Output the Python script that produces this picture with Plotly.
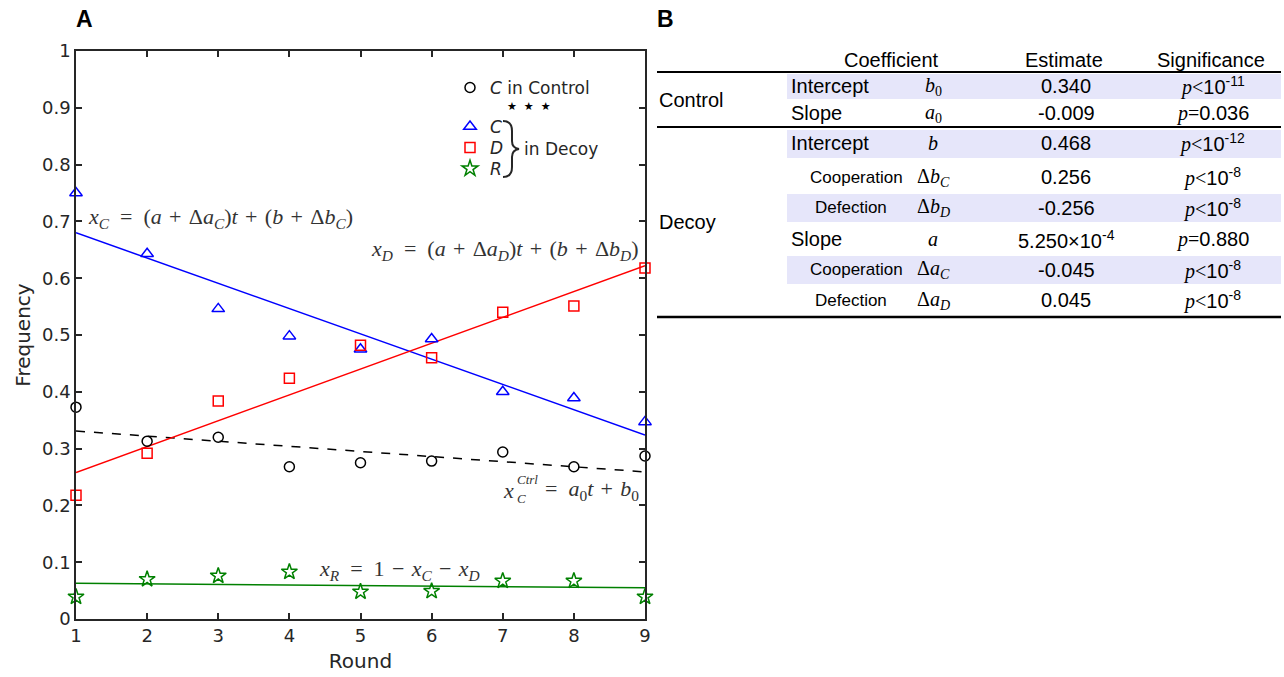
import plotly.graph_objects as go

# ---------------- data ----------------
rounds = [1, 2, 3, 4, 5, 6, 7, 8, 9]
ctrl_C = [0.373, 0.313, 0.320, 0.268, 0.275, 0.278, 0.294, 0.268, 0.287]
decoy_C = [0.750, 0.643, 0.546, 0.498, 0.475, 0.493, 0.400, 0.389, 0.347]
decoy_D = [0.218, 0.292, 0.384, 0.424, 0.482, 0.460, 0.540, 0.551, 0.618]
decoy_R = [0.039, 0.070, 0.076, 0.083, 0.048, 0.049, 0.067, 0.067, 0.039]

fit_rounds = [1, 9]
fit_ctrl_C = [0.331, 0.259]
fit_decoy_C = [0.680, 0.324]
fit_decoy_D = [0.258, 0.622]
fit_decoy_R = [0.063, 0.055]

# table
tbl_header = ["Coefficient", "Estimate", "Significance"]
tbl_names = ["Intercept", "Slope", "Intercept", "Cooperation", "Defection", "Slope", "Cooperation", "Defection"]
tbl_symbols = ["<i>b</i><sub>0</sub>", "<i>a</i><sub>0</sub>", "<i>b</i>", "Δ<i>b<sub>C</sub></i>", "Δ<i>b<sub>D</sub></i>",
               "<i>a</i>", "Δ<i>a<sub>C</sub></i>", "Δ<i>a<sub>D</sub></i>"]
tbl_estimates = ["0.340", "-0.009", "0.468", "0.256", "-0.256", "5.250×10<sup>-4</sup>", "-0.045", "0.045"]
tbl_sig = ["<", "=", "<", "<", "<", "=", "<", "<"]
tbl_sig_val = ["10<sup>-11</sup>", "0.036", "10<sup>-12</sup>", "10<sup>-8</sup>", "10<sup>-8</sup>", "0.880",
               "10<sup>-8</sup>", "10<sup>-8</sup>"]
tbl_groups = ["Control", "Decoy"]

W, H = 1284, 677
def PX(px):
    return px / W
def PY(py):
    return 1 - py / H

DARK = "#262626"
SANS = "DejaVu Sans"
ARIAL = "Liberation Sans"
SERIF = "Liberation Serif"

fig = go.Figure()

# fit lines
fig.add_trace(go.Scatter(x=fit_rounds, y=fit_ctrl_C, mode="lines", line=dict(color="black", width=1.5, dash="dash"),
                         showlegend=False, hoverinfo="skip"))
fig.add_trace(go.Scatter(x=fit_rounds, y=fit_decoy_C, mode="lines", line=dict(color="#0000ff", width=1.5),
                         showlegend=False, hoverinfo="skip"))
fig.add_trace(go.Scatter(x=fit_rounds, y=fit_decoy_D, mode="lines", line=dict(color="#ff0000", width=1.5),
                         showlegend=False, hoverinfo="skip"))
fig.add_trace(go.Scatter(x=fit_rounds, y=fit_decoy_R, mode="lines", line=dict(color="#008000", width=1.5),
                         showlegend=False, hoverinfo="skip"))

# data markers
fig.add_trace(go.Scatter(x=rounds, y=ctrl_C, mode="markers", name="<i>C</i> in Control", legend="legend",
                         marker=dict(symbol="circle-open", color="black", size=10, line=dict(width=1.5)),
                         cliponaxis=False))
fig.add_trace(go.Scatter(x=rounds, y=decoy_C, mode="markers", name="<i>C</i>", legend="legend2",
                         marker=dict(symbol="triangle-up-open", color="#0000ff", size=11, line=dict(width=1.5)),
                         cliponaxis=False))
fig.add_trace(go.Scatter(x=rounds, y=decoy_D, mode="markers", name="<i>D</i>", legend="legend3",
                         marker=dict(symbol="square-open", color="#ff0000", size=10, line=dict(width=1.5)),
                         cliponaxis=False))
fig.add_trace(go.Scatter(x=rounds, y=decoy_R, mode="markers", name="<i>R</i>", legend="legend4",
                         marker=dict(symbol="star-open", color="#008000", size=12, line=dict(width=1.5)),
                         cliponaxis=False))

axis_common = dict(showline=True, linecolor=DARK, linewidth=1.5, mirror="ticks", ticks="inside", ticklen=6,
                   tickwidth=1.5, tickcolor=DARK, showgrid=False, zeroline=False,
                   tickfont=dict(family=SANS, size=18, color=DARK))

def leg(py):
    return dict(x=PX(450), y=PY(py), xanchor="left", yanchor="middle", bgcolor="rgba(0,0,0,0)",
                font=dict(family=SANS, size=17, color=DARK), itemwidth=30)

fig.update_layout(
    width=W, height=H, margin=dict(l=0, r=0, t=0, b=0, autoexpand=False),
    paper_bgcolor="white", plot_bgcolor="white",
    xaxis=dict(domain=[PX(76), PX(645)], range=[1, 9], dtick=1, tick0=1,
               title=dict(text="Round", font=dict(family=SANS, size=20, color=DARK), standoff=9), **axis_common),
    yaxis=dict(domain=[PY(619), PY(51)], range=[0, 1], dtick=0.1, tick0=0,
               title=dict(text="Frequency", font=dict(family=SANS, size=20, color=DARK), standoff=6), **axis_common),
    legend=leg(88), legend2=leg(127), legend3=leg(148), legend4=leg(169),
    showlegend=True,
)

ann = []
def A(text, px, py, xanchor="center", size=17, family=ARIAL, color="black", yanchor="middle"):
    ann.append(dict(text=text, x=PX(px), y=PY(py), xref="paper", yref="paper", xanchor=xanchor, yanchor=yanchor,
                    showarrow=False, font=dict(family=family, size=size, color=color)))

# panel labels
A("<b>A</b>", 85, 19, size=23)
A("<b>B</b>", 665, 19, size=23)

# legend extras
A("★  ★  ★", 529, 107, size=11, family=SANS, color="black")
A("in Decoy", 522, 149, xanchor="left", size=17, family=SANS, color=DARK)

# equations
EQC = "#333333"
E = "\u2002"   # wide space around '='
M = "\u2004"   # medium space around binary operators
A(f"<i>x<sub>C</sub></i>{E}={E}(<i>a</i>{M}+{M}Δ<i>a<sub>C</sub></i>)<i>t</i>{M}+{M}(<i>b</i>{M}+{M}Δ<i>b<sub>C</sub></i>)",
  86, 218, xanchor="left", size=22, family=SERIF, color=EQC)
A(f"<i>x<sub>D</sub></i>{E}={E}(<i>a</i>{M}+{M}Δ<i>a<sub>D</sub></i>)<i>t</i>{M}+{M}(<i>b</i>{M}+{M}Δ<i>b<sub>D</sub></i>)",
  641, 250, xanchor="right", size=22, family=SERIF, color=EQC)
A("<i>x</i>", 516, 490, xanchor="right", size=22, family=SERIF, color=EQC)
A("<i>Ctrl</i>", 515, 479, xanchor="left", size=13, family=SERIF, color=EQC)
A("<i>C</i>", 515, 498, xanchor="left", size=13, family=SERIF, color=EQC)
A(f"={E}<i>a</i><sub>0</sub><i>t</i>{M}+{M}<i>b</i><sub>0</sub>", 641, 490, xanchor="right", size=22, family=SERIF,
  color=EQC)
A(f"<i>x<sub>R</sub></i>{E}={E}1{M}−{M}<i>x<sub>C</sub></i>{M}−{M}<i>x<sub>D</sub></i>", 399, 570, size=22,
  family=SERIF, color=EQC)

# table header
A(tbl_header[0], 891, 60, size=20)
A(tbl_header[1], 1064, 60, size=20)
A(tbl_header[2], 1211, 60, size=20)

row_y = [86, 113, 143, 177, 208, 239, 270, 300]
shade_rows = [(74, 99), (130, 158), (194, 222), (256, 284)]
shapes = []
for y0, y1 in shade_rows:
    shapes.append(dict(type="rect", xref="paper", yref="paper", x0=PX(787), x1=PX(1281), y0=PY(y1), y1=PY(y0),
                       fillcolor="#e6e6fa", line=dict(width=0), layer="below"))

for i, (nm, sym, est, sg, sv) in enumerate(zip(tbl_names, tbl_symbols, tbl_estimates, tbl_sig, tbl_sig_val)):
    y = row_y[i]
    if nm in ("Cooperation", "Defection"):
        xl = 808 if nm == "Cooperation" else 813
        A(nm, xl, y, xanchor="left", size=17)
    else:
        A(nm, 789, y, xanchor="left", size=20)
    A(sym, 933, y, size=20, family=SERIF)
    A(est, 1066, y, size=20)
    sig = ('<span style="font-family:Liberation Serif"><i>p</i>' + sg + '</span>' + sv)
    A(sig, 1212, y, size=20)

A(tbl_groups[0], 657, 100, xanchor="left", size=20)
A(tbl_groups[1], 657, 222, xanchor="left", size=20)

# rules
for py, wdt in [(72, 2), (127, 2), (317, 2.5)]:
    shapes.append(dict(type="line", xref="paper", yref="paper", x0=PX(657), x1=PX(1281), y0=PY(py), y1=PY(py),
                       line=dict(color="black", width=wdt)))

# brace for legend
pts = [(503, 121), (512, 121), (512, 131), (512, 141), (512, 148), (519, 149), (512, 150), (512, 157), (512, 167),
       (512, 177), (503, 177)]
def pp(p):
    return f"{PX(p[0]):.5f},{PY(p[1]):.5f}"
path = (f"M {pp(pts[0])} Q {pp(pts[1])} {pp(pts[2])} L {pp(pts[3])} Q {pp(pts[4])} {pp(pts[5])} "
        f"Q {pp(pts[6])} {pp(pts[7])} L {pp(pts[8])} Q {pp(pts[9])} {pp(pts[10])}")
shapes.append(dict(type="path", xref="paper", yref="paper", path=path, line=dict(color=DARK, width=2)))

fig.update_layout(annotations=ann, shapes=shapes)
fig.write_html("out.html")
